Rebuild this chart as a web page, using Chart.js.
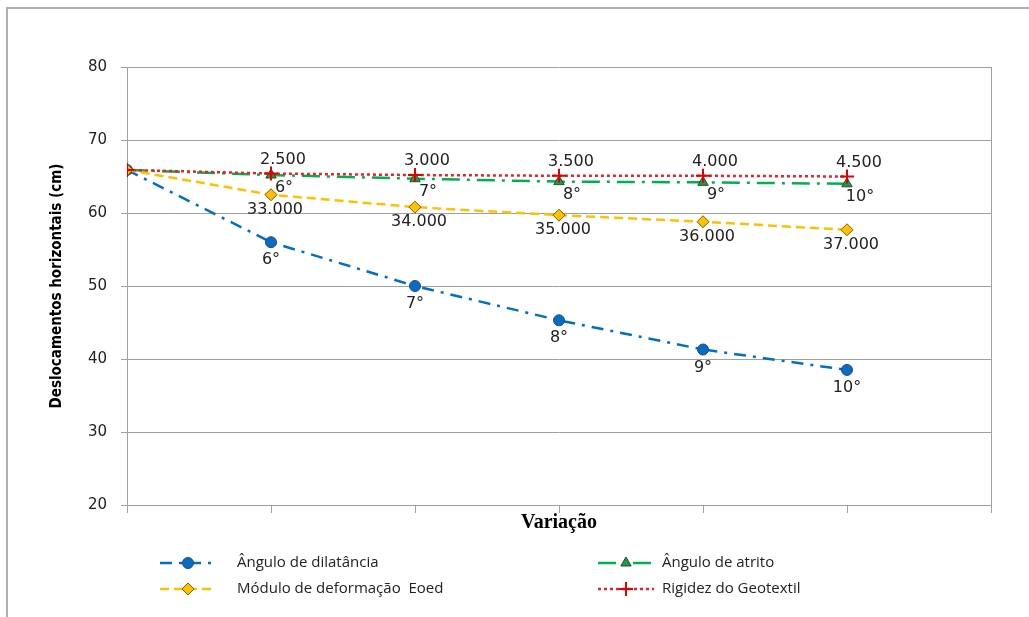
<!DOCTYPE html>
<html lang="pt">
<head>
<meta charset="UTF-8">
<title>Deslocamentos horizontais</title>
<script src="https://cdn.jsdelivr.net/npm/chart.js"></script>
<style>
  body { margin: 0; background: #fff; }
  canvas { display: block; }
</style>
</head>
<body>
<canvas id="grafico" width="1029" height="617"></canvas>
<script>
// passos da variação no eixo x (o eixo vai até 6, sem rótulos)
const passos = [0, 1, 2, 3, 4, 5];
const dilatancia = [65.9, 56.0, 50.0, 45.3, 41.3, 38.5];
const atrito     = [65.9, 65.2, 64.7, 64.3, 64.2, 64.0];
const modulo     = [65.9, 62.5, 60.8, 59.7, 58.8, 57.7];
const rigidez    = [65.9, 65.4, 65.2, 65.1, 65.1, 65.0];

// rótulos de cada ponto
const rotulosDilatancia = ['', '6°', '7°', '8°', '9°', '10°'];
const rotulosAtrito     = ['', '6°', '7°', '8°', '9°', '10°'];
const rotulosModulo     = ['', '33.000', '34.000', '35.000', '36.000', '37.000'];
const rotulosRigidez    = ['', '2.500', '3.000', '3.500', '4.000', '4.500'];

const yTicks = [20, 30, 40, 50, 60, 70, 80];
const cinza = '#a0a0a0';

function pontos(valores) {
    return passos.map((p, i) => ({ x: p, y: valores[i] }));
}

// moldura da figura
const molduraPlugin = {
    id: 'moldura',
    beforeDraw(chart) {
        const ctx = chart.ctx;
        ctx.save();
        ctx.fillStyle = '#fff';
        ctx.fillRect(0, 0, chart.width, chart.height);
        ctx.strokeStyle = '#b0b0b0';
        ctx.lineWidth = 2;
        ctx.beginPath();
        ctx.moveTo(7, chart.height);
        ctx.lineTo(7, 8);
        ctx.lineTo(chart.width, 8);
        ctx.stroke();
        ctx.restore();
    }
};

// rótulos de dados
const rotulosPlugin = {
    id: 'rotulos',
    afterDatasetsDraw(chart) {
        const ctx = chart.ctx;
        ctx.save();
        ctx.font = '16px "DejaVu Sans"';
        ctx.fillStyle = '#222';
        ctx.textAlign = 'center';
        ctx.textBaseline = 'middle';
        chart.data.datasets.forEach((ds, i) => {
            const meta = chart.getDatasetMeta(i);
            meta.data.forEach((pt, j) => {
                const txt = ds.rotulos[j];
                if (!txt) return;
                ctx.fillText(txt, pt.x + ds.rotuloDx, pt.y + ds.rotuloDy);
            });
        });
        ctx.restore();
    }
};

// legenda em duas colunas, com linha + marcador
const legendaPlugin = {
    id: 'legenda',
    afterDraw(chart) {
        const ctx = chart.ctx;
        const itens = [
            { i: 0, x: 160, y: 563, tx: 237 },
            { i: 1, x: 598, y: 563, tx: 662 },
            { i: 2, x: 160, y: 589, tx: 237 },
            { i: 3, x: 598, y: 589, tx: 662 }
        ];
        ctx.save();
        itens.forEach(it => {
            const ds = chart.data.datasets[it.i];
            ctx.strokeStyle = ds.borderColor;
            ctx.lineWidth = ds.borderWidth;
            ctx.setLineDash(ds.borderDash || []);
            ctx.beginPath();
            ctx.moveTo(it.x, it.y);
            ctx.lineTo(it.x + 56, it.y);
            ctx.stroke();
            ctx.setLineDash([]);
            ctx.fillStyle = ds.pointBackgroundColor;
            ctx.strokeStyle = ds.pointBorderColor;
            ctx.lineWidth = ds.pointBorderWidth;
            Chart.helpers.drawPoint(ctx, {
                pointStyle: ds.pointStyle,
                radius: ds.pointRadius,
                borderWidth: ds.pointBorderWidth,
                rotation: 0
            }, it.x + 28, it.y);
            ctx.fillStyle = '#222';
            ctx.font = '15px "Open Sans"';
            ctx.textAlign = 'left';
            ctx.textBaseline = 'middle';
            ctx.fillText(ds.label, it.tx, it.y);
        });
        ctx.restore();
    }
};

new Chart(document.getElementById('grafico'), {
    type: 'line',
    data: {
        datasets: [
            {
                label: 'Ângulo de dilatância',
                data: pontos(dilatancia),
                borderColor: '#0070C0',
                borderWidth: 2.5,
                borderDash: [12, 7, 3, 7],
                pointStyle: 'circle',
                pointRadius: 5.5,
                pointBackgroundColor: '#0a6cc0',
                pointBorderColor: '#1f4e89',
                pointBorderWidth: 1,
                rotulos: rotulosDilatancia, rotuloDx: 0, rotuloDy: 18,
                order: 4
            },
            {
                label: 'Ângulo de atrito',
                data: pontos(atrito),
                borderColor: '#00B050',
                borderWidth: 2.5,
                borderDash: [18, 7, 3, 7],
                pointStyle: 'triangle',
                pointRadius: 6,
                pointBackgroundColor: '#1e9a48',
                pointBorderColor: '#24502a',
                pointBorderWidth: 1,
                rotulos: rotulosAtrito, rotuloDx: 13, rotuloDy: 13,
                order: 3
            },
            {
                label: 'Módulo de deformação  Eoed',
                data: pontos(modulo),
                borderColor: '#FFC000',
                borderWidth: 2.5,
                borderDash: [9, 5],
                pointStyle: 'rectRot',
                pointRadius: 6,
                pointBackgroundColor: '#FFC000',
                pointBorderColor: '#7f6000',
                pointBorderWidth: 1,
                rotulos: rotulosModulo, rotuloDx: 4, rotuloDy: 15,
                order: 2
            },
            {
                label: 'Rigidez do Geotextil',
                data: pontos(rigidez),
                borderColor: '#E8212A',
                borderWidth: 2.5,
                borderDash: [3, 3],
                pointStyle: 'cross',
                pointRadius: 7,
                pointBackgroundColor: '#E00000',
                pointBorderColor: '#E00000',
                pointBorderWidth: 2,
                rotulos: rotulosRigidez, rotuloDx: 12, rotuloDy: -14,
                order: 1
            }
        ]
    },
    options: {
        responsive: false,
        devicePixelRatio: 1,
        animation: false,
        layout: { padding: { left: 40, right: 38, top: 67, bottom: 82 } },
        elements: { line: { tension: 0, fill: false } },
        plugins: {
            legend: { display: false },
            tooltip: { enabled: false }
        },
        scales: {
            x: {
                type: 'linear',
                min: 0,
                max: 6,
                ticks: { stepSize: 1, callback: () => '', padding: 0 },
                grid: {
                    color: c => (c.tick && c.tick.value === 6 ? cinza : 'rgba(0,0,0,0)'),
                    tickColor: cinza,
                    tickLength: 8
                },
                border: { color: cinza, width: 1 },
                title: {
                    display: true,
                    text: 'Variação',
                    color: '#000',
                    font: { family: '"Liberation Serif"', size: 20, weight: 'bold' },
                    padding: { top: 0, bottom: 0 }
                },
                afterFit: s => { s.height = 30; }
            },
            y: {
                min: 20,
                max: 80,
                afterBuildTicks: s => { s.ticks = yTicks.map(v => ({ value: v })); },
                ticks: {
                    padding: 14,
                    color: '#222',
                    font: { family: '"DejaVu Sans"', size: 15 }
                },
                grid: { color: cinza, tickColor: cinza, tickLength: 6 },
                border: { color: cinza, width: 1 },
                title: {
                    display: true,
                    text: 'Deslocamentos horizontais (cm)',
                    color: '#000',
                    font: { family: '"Liberation Sans Narrow", "DejaVu Sans Condensed", sans-serif', size: 15, weight: 'bold' },
                    padding: { top: 8, bottom: 0 }
                },
                afterFit: s => { s.width = 87; }
            }
        }
    },
    plugins: [molduraPlugin, rotulosPlugin, legendaPlugin]
});
</script>
</body>
</html>
